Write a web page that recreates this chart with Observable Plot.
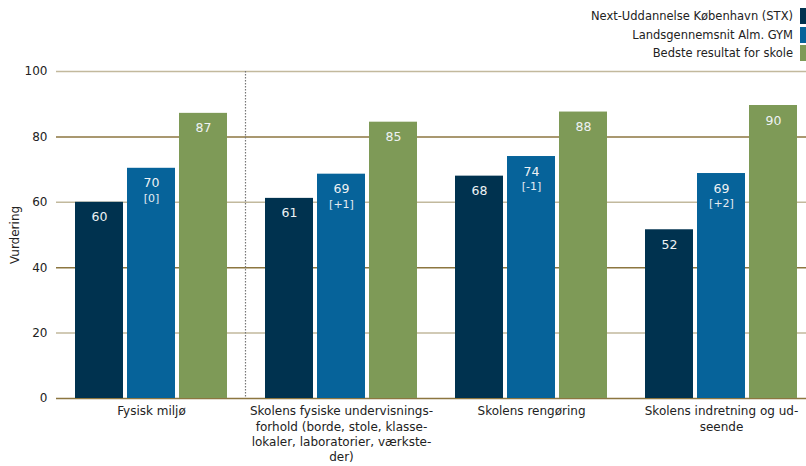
<!DOCTYPE html>
<html>
<head>
<meta charset="utf-8">
<script src="https://cdn.jsdelivr.net/npm/d3@7"></script>
<script src="https://cdn.jsdelivr.net/npm/@observablehq/plot@0.6"></script>
<style>
  html, body { margin: 0; padding: 0; background: #fff; overflow: hidden; }
  #wrap { width: 806px; height: 466px; overflow: hidden; position: relative; font-family: "DejaVu Sans", sans-serif; color: #222; }
  #legend { height: 58px; box-sizing: border-box; padding-top: 7px; overflow: visible; }
  .row { display: flex; justify-content: flex-end; align-items: center; height: 18.5px; font-size: 11.5px; }
  .sw { width: 6px; height: 16px; margin-left: 7px; }
  #chart { width: 816px; }
  #chart svg { display: block; overflow: hidden; max-width: none !important; width: 816px !important; height: 408px !important; }
</style>
</head>
<body>
<div id="wrap">
  <div id="legend"></div>
  <div id="chart"></div>
</div>
<script>
const categories = ["Fysisk miljø", "Skolens fysiske undervisningsforhold", "Skolens rengøring", "Skolens indretning og udseende"];
const tickLabels = [
  "Fysisk miljø",
  "Skolens fysiske undervisnings-\nforhold (borde, stole, klasse-\nlokaler, laboratorier, værkste-\nder)",
  "Skolens rengøring",
  "Skolens indretning og ud-\nseende"
];
const series = ["Next-Uddannelse København (STX)", "Landsgennemsnit Alm. GYM", "Bedste resultat for skole"];
const colors = ["#00324f", "#06639a", "#7e9a57"];
const stx = [60.0, 61.2, 68.0, 51.6];
const landsgns = [70.4, 68.6, 74.0, 68.8];
const best = [87.2, 84.5, 87.6, 89.6];
const changes = ["[0]", "[+1]", "[-1]", "[+2]"];
const yTicks = [0, 20, 40, 60, 80, 100];
const lightGrid = [20, 60, 100];
const darkGrid = [0, 40, 80];

const rows = [];
const valuesBySeries = [stx, landsgns, best];
categories.forEach((c, i) => {
  series.forEach((s, j) => {
    rows.push({cat: c, series: s, value: valuesBySeries[j][i], change: j === 1 ? changes[i] : null});
  });
});

// legend
const legend = document.getElementById("legend");
series.forEach((s, j) => {
  const r = document.createElement("div");
  r.className = "row";
  r.innerHTML = `<span>${s}</span><span class="sw" style="background:${colors[j]}"></span>`;
  legend.appendChild(r);
});

const chart = Plot.plot({
  width: 816,
  height: 408,
  marginLeft: 56,
  marginRight: 0,
  marginTop: 13,
  marginBottom: 68,
  facet: {marginTop: 0, marginRight: 0, marginBottom: 0, marginLeft: 0},
  style: {fontFamily: "DejaVu Sans, sans-serif", fontSize: "12px", color: "#222", background: "#fff"},
  fx: {domain: categories, padding: 0, label: null},
  x: {domain: series, paddingInner: 0.086, paddingOuter: 0.352, axis: null},
  y: {domain: [0, 100], label: "Vurdering"},
  color: {domain: series, range: colors},
  marks: [
    Plot.ruleY(lightGrid, {stroke: "#c2b99d", strokeWidth: 1.5}),
    Plot.ruleY(darkGrid, {stroke: "#8c7640", strokeWidth: 1.5}),
    Plot.ruleX([categories[0]], {fx: d => d, x: () => series[2], dx: 42, stroke: "#777", strokeDasharray: "1.5,1.5", strokeWidth: 1.2}),
    Plot.barY(rows, {fx: "cat", x: "series", y: "value", fill: "series"}),
    Plot.text(rows, {fx: "cat", x: "series", y: "value", text: d => String(Math.round(d.value)), dy: 15, fill: "#eef2f4", fontSize: 12.5}),
    Plot.text(rows.filter(d => d.change), {fx: "cat", x: "series", y: "value", text: "change", dy: 30, fill: "#e4ecf2", fontSize: 11}),
    Plot.axisY({ticks: yTicks, tickSize: 0, tickPadding: 9, label: "Vurdering", labelAnchor: "center", labelArrow: "none", labelOffset: 46, fontSize: 12}),
    Plot.axisFx({anchor: "bottom", tickSize: 0, tickPadding: 6, label: null, lineHeight: 1.28, fontSize: 12, tickFormat: d => tickLabels[categories.indexOf(d)]})
  ]
});
document.getElementById("chart").appendChild(chart);
</script>
</body>
</html>
